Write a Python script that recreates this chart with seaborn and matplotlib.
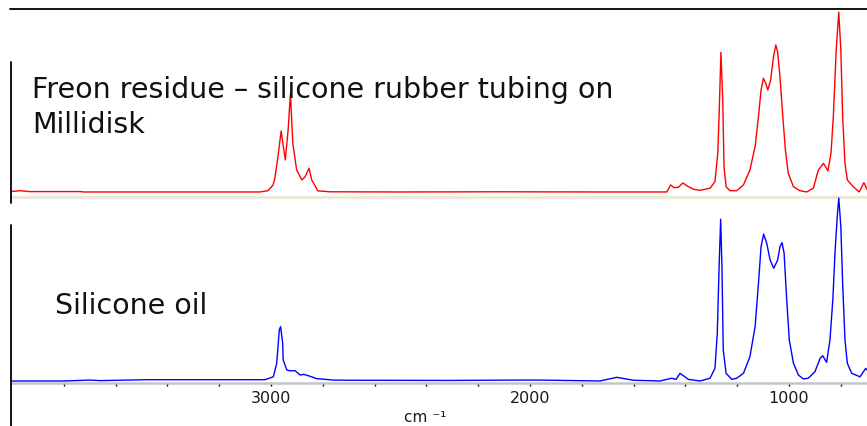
import numpy as np
import pandas as pd
import matplotlib
matplotlib.use("Agg")
import matplotlib.pyplot as plt
from matplotlib.lines import Line2D
import seaborn as sns

# ---------------- data ----------------
freon_wn = [4000, 3969, 3931, 3737, 3722, 3467, 3158, 3042, 3012, 2992, 2985, 2973,
            2961, 2945, 2934, 2925, 2916, 2901, 2881, 2869, 2853, 2843, 2819, 2772,
            2502, 2116, 1730, 1498, 1472, 1457, 1444, 1427, 1410, 1393, 1369, 1344,
            1305, 1286, 1275, 1269, 1263, 1256, 1251, 1243, 1228, 1202, 1176, 1151,
            1131, 1118, 1108, 1099, 1090, 1082, 1071, 1060, 1051, 1044, 1035, 1024,
            1014, 1003, 983, 958, 932, 906, 887, 867, 850, 838, 829, 818, 808, 800,
            793, 784, 775, 752, 729, 711, 699]
freon_abs = [0.003, 0.007, 0.002, 0.002, 0.0, 0.0, 0.0, 0.0, 0.007, 0.039, 0.078, 0.196,
             0.339, 0.178, 0.344, 0.548, 0.272, 0.122, 0.067, 0.083, 0.132, 0.067, 0.006, 0.001,
             0.0, 0.001, 0.0, 0.0, 0.0, 0.039, 0.024, 0.026, 0.050, 0.033, 0.015, 0.009,
             0.021, 0.057, 0.217, 0.474, 0.776, 0.511, 0.141, 0.029, 0.007, 0.007, 0.039, 0.122,
             0.252, 0.418, 0.567, 0.632, 0.604, 0.567, 0.622, 0.752, 0.817, 0.779, 0.641, 0.418,
             0.233, 0.104, 0.029, 0.007, 0.0, 0.021, 0.122, 0.159, 0.117, 0.215, 0.418, 0.789, 1.0, 0.789,
             0.418, 0.159, 0.067, 0.029, 0.0, 0.052, 0.015]

oil_wn = [4000, 3799, 3699, 3660, 3475, 3189, 3081, 3023, 2991, 2978, 2968, 2963,
          2955, 2953, 2939, 2927, 2907, 2888, 2873, 2852, 2824, 2761, 2695, 2309,
          2039, 1961, 1730, 1665, 1601, 1498, 1453, 1436, 1421, 1408, 1389, 1344,
          1305, 1286, 1277, 1270, 1264, 1259, 1254, 1243, 1221, 1202, 1176, 1151,
          1131, 1118, 1108, 1098, 1086, 1073, 1059, 1044, 1035, 1027, 1019, 1009,
          999, 983, 964, 945, 926, 900, 880, 870, 855, 842, 831, 822, 813, 808,
          800, 793, 784, 775, 758, 726, 704, 699]
oil_abs = [0.0, 0.0, 0.005, 0.002, 0.007, 0.007, 0.007, 0.007, 0.023, 0.097, 0.279, 0.297,
           0.206, 0.115, 0.060, 0.056, 0.056, 0.033, 0.036, 0.027, 0.013, 0.005, 0.004, 0.003,
           0.005, 0.005, 0.0, 0.020, 0.004, 0.0, 0.015, 0.009, 0.042, 0.029, 0.009, 0.0,
           0.015, 0.069, 0.261, 0.625, 0.884, 0.625, 0.169, 0.042, 0.009, 0.015, 0.042, 0.133,
           0.297, 0.534, 0.734, 0.803, 0.752, 0.661, 0.616, 0.661, 0.734, 0.756, 0.698, 0.443,
           0.224, 0.097, 0.033, 0.011, 0.015, 0.051, 0.124, 0.138, 0.102, 0.224, 0.443, 0.716, 0.916, 1.0,
           0.843, 0.534, 0.224, 0.097, 0.042, 0.023, 0.069, 0.060]

tick_values = [3000, 2000, 1000]
tick_labels = ["3000", "2000", "1000"]
top_label = "Freon residue \u2013 silicone rubber tubing on\nMillidisk"
bottom_label = "Silicone oil"
x_label = "cm \u207b\u00b9"

# ---------------- figure ----------------
sns.set_style("white")
plt.rcParams["font.family"] = ["DejaVu Sans"]

W, H = 867, 426
fig = plt.figure(figsize=(W / 100, H / 100), dpi=100)
fig.patch.set_facecolor("white")

def fx(px):
    return px / W

def fy(py):
    return 1 - py / H

ax_top = fig.add_axes([fx(12), fy(197), fx(855), 188 / H])
ax_bot = fig.add_axes([fx(12), fy(383), fx(855), 187 / H])

df_top = pd.DataFrame({"wn": freon_wn, "A": freon_abs})
df_bot = pd.DataFrame({"wn": oil_wn, "A": oil_abs})

sns.lineplot(data=df_top, x="wn", y="A", ax=ax_top, color="#ff0000", lw=1.0,
             estimator=None, sort=False)
sns.lineplot(data=df_bot, x="wn", y="A", ax=ax_bot, color="#0000ff", lw=1.0,
             estimator=None, sort=False)

for ax in (ax_top, ax_bot):
    ax.set_facecolor("none")
    ax.set_xlim(4000, 699)
    ax.set_xlabel("")
    ax.set_ylabel("")
    ax.set_yticks([])
    ax.spines["left"].set_visible(False)
    ax.spines["right"].set_visible(False)
    ax.spines["top"].set_visible(False)

ax_top.set_ylim(-0.028, 1.017)
ax_bot.set_ylim(-0.011, 1.011)

# top panel: beige baseline, no ticks
ax_top.spines["bottom"].set_color("#ece9d8")
ax_top.spines["bottom"].set_linewidth(2.4)
ax_top.set_xticks([])

# bottom panel: grey axis with ticks
ax_bot.spines["bottom"].set_color("#c4c4cc")
ax_bot.spines["bottom"].set_linewidth(1.8)
ax_bot.set_xticks(tick_values)
ax_bot.set_xticklabels(tick_labels)
ax_bot.set_xticks(np.arange(3800, 699, -200), minor=True)
ax_bot.tick_params(axis="x", which="both", direction="out", length=2.5, width=1.0,
                   color="black", pad=3, labelsize=11.5, labelcolor="#1a1a1a", bottom=True)

# frame lines
fig.add_artist(Line2D([fx(10), 1], [fy(9.3), fy(9.3)], color="black", lw=1.3))
fig.add_artist(Line2D([fx(10.7), fx(10.7)], [fy(62), fy(203)], color="black", lw=1.3))
fig.add_artist(Line2D([fx(10.7), fx(10.7)], [fy(225), 0], color="black", lw=1.3))

# texts (va='baseline' aligns the last line for multi-line text)
fig.text(fx(32), fy(133), top_label, fontsize=20.5, color="#111111", va="baseline",
         ha="left", linespacing=1.3)
fig.text(fx(55), fy(314), bottom_label, fontsize=20.5, color="#111111", va="baseline", ha="left")
fig.text(fx(404), fy(421.5), x_label, fontsize=11, color="#1a1a1a", va="baseline", ha="left")

fig.savefig("out.png", dpi=100)
